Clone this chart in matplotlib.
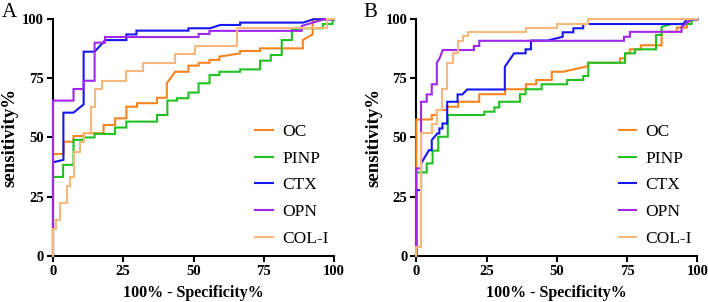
import matplotlib
matplotlib.use("Agg")
import matplotlib.pyplot as plt

plt.rcParams['font.family'] = ['Liberation Serif', 'DejaVu Serif']

series_names = ["OC", "PINP", "CTX", "OPN", "COL-I"]
colors = ["#F7841F", "#22C122", "#1616F2", "#A127EC", "#F8B87C"]
ticks = [0, 25, 50, 75, 100]
xlabel = "100% - Specificity%"
ylabel = "sensitivity%"

# Panel A curves (x = 100% - specificity, y = sensitivity)
oc_a_x = [0, 0, 3.8, 3.8, 7.3, 7.3, 10.9, 10.9, 18.0, 18.0, 22.1, 22.1, 26.1, 26.1, 29.9, 29.9, 37.0, 37.0, 40.5, 40.5, 43.5, 48.2, 48.2, 51.8, 51.8, 55.7, 55.7, 59.2, 59.2, 66.6, 66.6, 73.7, 73.7, 88.9, 88.9, 92.4, 92.4, 100]
oc_a_y = [0, 43, 43, 48.2, 48.2, 50.6, 50.6, 51.8, 51.8, 55.3, 55.3, 58.1, 58.1, 63, 63, 64.5, 64.5, 66.8, 66.8, 72.9, 77.8, 77.8, 80.4, 80.4, 81.6, 81.6, 82.8, 82.8, 84.2, 85.6, 86.6, 86.6, 87.7, 87.7, 91.2, 93.6, 100, 100]

pinp_a_x = [0, 0, 3.6, 3.6, 7.3, 7.3, 10.9, 10.9, 14.8, 14.8, 22.1, 22.1, 26.1, 26.1, 37.0, 37.0, 40.7, 40.7, 44.1, 44.1, 48.2, 48.2, 51.8, 51.8, 55.7, 55.7, 59.2, 59.2, 66.6, 66.6, 73.7, 73.7, 77.5, 77.5, 81.4, 81.4, 85.0, 85.0, 88.5, 96.0, 96.0, 99.5, 99.5, 100]
pinp_a_y = [0, 33.3, 33.3, 38.4, 38.4, 49, 49, 50, 50, 51.5, 51.5, 54.2, 54.2, 56.7, 56.7, 59.5, 59.5, 65.6, 65.6, 66.6, 66.6, 69, 69, 72.9, 72.9, 76.4, 76.4, 77.8, 77.8, 78.8, 78.8, 82.5, 82.5, 84.9, 84.9, 91.2, 91.2, 95.5, 96.2, 96.2, 98, 98, 100, 100]

ctx_a_x = [0, 0, 3.7, 3.7, 7.3, 10.9, 10.9, 14.8, 18.6, 26.1, 26.1, 29.7, 29.7, 48.2, 48.2, 55.9, 59.5, 66.6, 66.6, 89.0, 92.6, 100]
ctx_a_y = [0, 39.5, 40.5, 60.5, 60.5, 64, 86.3, 86.3, 91.2, 91.2, 93.6, 93.6, 95.2, 95.2, 96.2, 96.2, 97.6, 97.6, 98.6, 98.6, 100, 100]

opn_a_x = [0, 0, 7.3, 7.3, 10.9, 10.9, 14.8, 14.8, 18.5, 18.5, 51.8, 51.8, 55.7, 55.7, 88.5, 88.5, 96.5, 100]
opn_a_y = [0, 65.6, 65.6, 70.5, 70.5, 74, 74, 90.1, 90.1, 92.5, 92.5, 93.8, 93.8, 95.1, 95.1, 97.2, 100, 100]

col_a_x = [0, 0, 1.1, 1.1, 2.4, 2.4, 5.0, 5.0, 6.2, 6.2, 7.3, 7.3, 9.7, 9.7, 10.9, 10.9, 13.5, 13.5, 14.8, 14.8, 17.4, 17.4, 26.1, 26.1, 32.2, 32.2, 43.3, 43.3, 50.6, 50.6, 65.6, 65.6, 97.4, 97.4, 100]
col_a_y = [0, 11.2, 11.2, 15.1, 15.1, 22.4, 22.4, 29.5, 29.5, 33.4, 33.4, 44, 44, 48.2, 48.2, 52, 52, 63, 63, 70.4, 70.4, 74, 74, 78.1, 78.1, 81.6, 81.6, 85.4, 85.4, 88.8, 88.8, 96.2, 96.2, 100, 100]

# Panel B curves
oc_b_x = [0, 0, 5.5, 5.5, 7.3, 7.3, 10.8, 10.8, 14.9, 14.9, 22.4, 22.4, 31.6, 31.6, 39.0, 39.0, 42.7, 42.7, 48.2, 48.2, 52.2, 61.2, 61.2, 72.5, 72.5, 74.3, 74.3, 76.0, 76.0, 79.9, 79.9, 87.3, 87.3, 92.7, 92.7, 96.3, 96.3, 98.0, 100]
oc_b_y = [0, 57.6, 57.6, 59.5, 59.5, 61.6, 61.6, 63, 63, 65.1, 65.1, 68.3, 68.3, 70.4, 70.4, 72.5, 72.5, 74.3, 74.3, 77.8, 77.8, 80.2, 81.6, 81.6, 83.5, 83.5, 85.6, 85.6, 87.3, 87.3, 89, 89, 94.7, 94.7, 96.5, 96.5, 98.5, 100, 100]

pinp_b_x = [0, 0, 3.7, 3.7, 5.8, 5.8, 7.8, 7.8, 11.2, 11.2, 24.2, 24.2, 27.8, 27.8, 29.5, 29.5, 36.9, 36.9, 38.9, 38.9, 44.6, 44.6, 53.7, 53.7, 59.4, 59.4, 61.2, 61.2, 74.3, 74.3, 77.8, 77.8, 85.3, 85.3, 87.3, 87.3, 90.8, 98.0, 98.0, 100]
pinp_b_y = [0, 35.2, 35.2, 39, 39, 44.4, 44.4, 50.3, 50.3, 59.5, 59.5, 60.9, 60.9, 62.7, 62.7, 65.1, 65.1, 68.3, 68.3, 70.4, 70.4, 72.5, 72.5, 74.3, 74.3, 76, 76, 81.6, 81.6, 85.6, 85.6, 87.3, 87.3, 93.4, 93.4, 96.8, 98, 98, 100, 100]

ctx_b_x = [0, 0, 1.7, 1.7, 4.5, 5.5, 5.5, 7.5, 8.2, 8.2, 9.3, 9.3, 11.0, 11.0, 14.7, 14.7, 16.4, 18.1, 31.5, 31.5, 34.8, 38.9, 38.9, 40.8, 40.8, 46.6, 52.1, 52.1, 55.9, 55.9, 59.4, 59.4, 95.0, 96.3, 100]
ctx_b_y = [0, 27.7, 27.7, 39, 44.6, 44.6, 48.9, 51.7, 51.7, 53.8, 53.8, 55.9, 55.9, 65.1, 65.1, 68.2, 68.2, 70.3, 70.3, 79.9, 85.6, 85.6, 87.3, 87.3, 91, 91, 92.6, 94.5, 94.5, 96.2, 96.2, 98, 98, 100, 100]

opn_b_x = [0, 0, 1.7, 1.7, 3.7, 3.7, 5.5, 5.5, 7.3, 7.3, 8.3, 9.4, 20.5, 20.5, 22.4, 22.4, 73.9, 73.9, 76.0, 76.0, 94.4, 94.4, 98.0, 100]
opn_b_y = [0, 36.9, 36.9, 65.1, 65.1, 68.2, 68.2, 72.5, 72.5, 81.6, 83.5, 87, 87, 88.7, 88.7, 90.9, 90.9, 92.6, 92.6, 94.7, 94.7, 96.8, 100, 100]

col_b_x = [0, 0, 1.8, 1.8, 5.5, 5.5, 7.3, 7.3, 9.0, 9.0, 10.8, 10.8, 13.2, 13.2, 14.9, 14.9, 16.7, 16.7, 18.5, 18.5, 39.0, 39.0, 49.9, 49.9, 61.2, 61.2, 100]
col_b_y = [0, 3.7, 3.7, 52, 52, 55.7, 55.7, 61.6, 61.6, 70.4, 70.4, 81.6, 81.6, 85.6, 85.6, 90.9, 90.9, 92.9, 92.9, 94.5, 94.5, 96.2, 96.2, 98, 98, 100, 100]

panels = [
    ("A", [(oc_a_x, oc_a_y), (pinp_a_x, pinp_a_y), (ctx_a_x, ctx_a_y), (opn_a_x, opn_a_y), (col_a_x, col_a_y)]),
    ("B", [(oc_b_x, oc_b_y), (pinp_b_x, pinp_b_y), (ctx_b_x, ctx_b_y), (opn_b_x, opn_b_y), (col_b_x, col_b_y)]),
]

fig = plt.figure(figsize=(7.08, 3.02), dpi=100)
lefts = [53 / 708, 416.3 / 708]
W = 281 / 708
B = (302 - 255.6) / 302
H = (255.6 - 19.3) / 302
letter_x = [2 / 708, 363 / 708]

for i, (letter, curves) in enumerate(panels):
    ax = fig.add_axes([lefts[i], B, W, H])
    for (xs, ys), name, c in zip(curves, series_names, colors):
        ax.plot(xs, ys, color=c, lw=1.5, label=name, clip_on=False, zorder=3,
                solid_joinstyle='miter')
    ax.set_xlim(0, 100)
    ax.set_ylim(0, 100)
    ax.set_xticks(ticks)
    ax.set_yticks(ticks)
    ax.set_xticklabels([str(t) for t in ticks], fontweight='bold', fontsize=10.5)
    ax.set_yticklabels([str(t) for t in ticks], fontweight='bold', fontsize=10.5)
    for s in ['top', 'right']:
        ax.spines[s].set_visible(False)
    for s in ['left', 'bottom']:
        ax.spines[s].set_linewidth(1.5)
        ax.spines[s].set_color('black')
    ax.tick_params(direction='out', length=4.5, width=1.5, pad=2, colors='black')
    ax.set_xlabel(xlabel, fontweight='bold', fontsize=11.5)
    ax.xaxis.set_label_coords(0.5, -0.125)
    ax.set_ylabel(ylabel, fontweight='bold', fontsize=13.5)
    ax.yaxis.set_label_coords(-0.122, 0.5)
    leg = ax.legend(loc='lower left', bbox_to_anchor=(0.72, 0.035), frameon=False,
                    fontsize=12.5, handlelength=1.0, handletextpad=0.55,
                    labelspacing=0.62, borderaxespad=0.0, borderpad=0.0)
    for ln in leg.get_lines():
        ln.set_linewidth(1.5)
    fig.text(letter_x[i], 0.99, letter, fontsize=15, va='top', ha='left')

fig.savefig("out.png", dpi=100)
